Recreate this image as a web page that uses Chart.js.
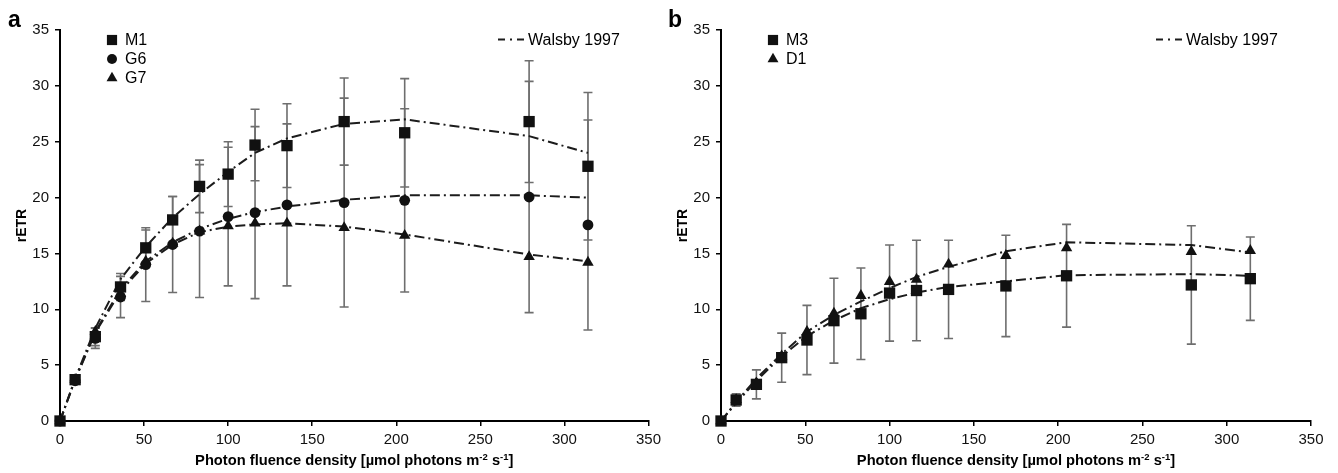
<!DOCTYPE html>
<html>
<head>
<meta charset="utf-8">
<script src="https://cdn.jsdelivr.net/npm/chart.js@4.4.1/dist/chart.umd.min.js"></script>
<style>
  html, body { margin:0; padding:0; background:#fff; }
  #wrap { position:relative; width:1338px; height:473px; }
  #ca { position:absolute; left:0; top:0; }
  #cb { position:absolute; left:666px; top:0; }
</style>
</head>
<body>
<div id="wrap">
  <canvas id="ca" width="666" height="473"></canvas>
  <canvas id="cb" width="672" height="473"></canvas>
</div>
<script>
// ---------- DATA ----------
const xValues = [0, 9, 21, 36, 51, 67, 83, 100, 116, 135, 169, 205, 279, 314];
const xTicks = [0, 50, 100, 150, 200, 250, 300, 350];
const yTicks = [0, 5, 10, 15, 20, 25, 30, 35];

// Panel a
const m1Values = [0, 3.7, 7.55, 12.0, 15.5, 18.0, 21.0, 22.1, 24.7, 24.65, 26.8, 25.8, 26.8, 22.8];
const m1Errors = [0, 0.3, 0.8, 1.2, 1.6, 2.1, 2.35, 2.9, 3.2, 3.75, 3.9, 4.85, 5.45, 6.6];
const m1Fit    = [0, 3.8, 8.3, 12.7, 15.6, 18.2, 20.3, 22.3, 24.0, 25.3, 26.6, 27.0, 25.5, 24.0];
const g6Values = [0, 3.6, 7.4, 11.1, 14.0, 15.8, 17.0, 18.3, 18.65, 19.35, 19.55, 19.75, 20.05, 17.55];
const g6Errors = [0, 0.3, 0.9, 1.85, 3.3, 4.3, 5.95, 6.2, 7.7, 7.25, 9.35, 8.2, 10.35, 9.4];
const g6Fit    = [0, 3.7, 8.0, 11.8, 14.3, 16.0, 17.2, 18.1, 18.7, 19.2, 19.8, 20.2, 20.2, 20.0];
const g7Values = [0, 3.7, 8.0, 11.4, 14.3, 15.9, 17.0, 17.45, 17.7, 17.7, 17.3, 16.6, 14.7, 14.2];
const g7Fit    = [0, 3.7, 7.9, 11.6, 14.1, 15.8, 16.9, 17.4, 17.6, 17.7, 17.4, 16.7, 14.9, 14.3];

// Panel b
const m3Values = [0, 1.88, 3.28, 5.67, 7.25, 8.98, 9.6, 11.45, 11.68, 11.78, 12.09, 13.0, 12.18, 12.74];
const m3Errors = [0, 0.55, 1.3, 2.2, 3.1, 3.8, 4.1, 4.3, 4.5, 4.4, 4.54, 4.6, 5.3, 3.73];
const m3Fit    = [0, 1.6, 3.6, 5.8, 7.6, 9.0, 10.1, 10.9, 11.5, 12.0, 12.5, 13.05, 13.15, 13.0];
const d1Values = [0, 1.9, 3.4, 5.8, 8.0, 9.64, 11.22, 12.47, 12.68, 14.03, 14.8, 15.5, 15.16, 15.25];
const d1Fit    = [0, 1.7, 3.8, 6.0, 8.0, 9.5, 10.7, 11.9, 12.9, 13.8, 15.2, 16.0, 15.75, 15.1];

const fitLabel = 'Walsby 1997';
const yTitle = 'rETR';

// ---------- STYLE ----------
const FONT = '"Liberation Sans", Arial, Helvetica, sans-serif';
const INK = '#111';
const BAR = '#6e6e6e';

function pts(vals) { return xValues.map((x, i) => ({ x: x, y: vals[i] })); }

function markerDS(label, vals, style, radius, errs) {
  return {
    label: label, data: pts(vals), showLine: false, pointStyle: style,
    pointRadius: radius, pointHoverRadius: radius,
    pointBackgroundColor: INK, pointBorderColor: INK, pointBorderWidth: 0,
    clip: false, order: 0, errors: errs || null, isMarker: true
  };
}
function fitDS(vals) {
  return {
    label: fitLabel, data: pts(vals), showLine: true, pointRadius: 0,
    borderColor: '#1c1c1c', borderWidth: 2, borderDash: [10, 4, 2, 4],
    fill: false, tension: 0, clip: false, order: 1, isMarker: false
  };
}

function drawShape(ctx, style, x, y, r) {
  ctx.beginPath();
  if (style === 'rect') {
    const s = r * Math.SQRT1_2;
    ctx.rect(x - s, y - s, 2 * s, 2 * s);
  } else if (style === 'circle') {
    ctx.arc(x, y, r, 0, Math.PI * 2);
  } else if (style === 'triangle') {
    ctx.moveTo(x, y - r);
    ctx.lineTo(x + 0.866 * r, y + 0.5 * r);
    ctx.lineTo(x - 0.866 * r, y + 0.5 * r);
    ctx.closePath();
  }
  ctx.fillStyle = INK;
  ctx.fill();
}

const errorBarPlugin = {
  id: 'errorBars',
  beforeDatasetsDraw(chart) {
    const ctx = chart.ctx, xs = chart.scales.x, ys = chart.scales.y;
    ctx.save();
    ctx.strokeStyle = BAR;
    ctx.lineWidth = 1.6;
    chart.data.datasets.forEach(ds => {
      if (!ds.errors) return;
      ds.data.forEach((p, i) => {
        const e = ds.errors[i];
        if (!e) return;
        const px = xs.getPixelForValue(p.x);
        const yt = ys.getPixelForValue(p.y + e);
        const yb = ys.getPixelForValue(p.y - e);
        ctx.beginPath();
        ctx.moveTo(px, yt); ctx.lineTo(px, yb);
        ctx.moveTo(px - 4.5, yt); ctx.lineTo(px + 4.5, yt);
        ctx.moveTo(px - 4.5, yb); ctx.lineTo(px + 4.5, yb);
        ctx.stroke();
      });
    });
    ctx.restore();
  }
};

const decorPlugin = {
  id: 'decor',
  afterDraw(chart, args, opts) {
    const ctx = chart.ctx, ca = chart.chartArea;
    ctx.save();
    // panel letter
    ctx.fillStyle = '#000';
    ctx.font = 'bold 23px ' + FONT;
    ctx.textAlign = 'left'; ctx.textBaseline = 'alphabetic';
    ctx.fillText(opts.letter, opts.letterX, 27);

    // y title
    ctx.save();
    ctx.translate(ca.left - 34, (ca.top + ca.bottom) / 2);
    ctx.rotate(-Math.PI / 2);
    ctx.font = 'bold 14px ' + FONT;
    ctx.textAlign = 'center'; ctx.textBaseline = 'alphabetic';
    ctx.fillText(yTitle, 0, 0);
    ctx.restore();

    // x title with superscripts
    const big = 'bold 14.7px ' + FONT, small = 'bold 9.5px ' + FONT;
    const parts = [
      ['Photon fluence density [\u00b5mol photons m', big, 0],
      ['-2', small, -5],
      [' s', big, 0],
      ['-1', small, -5],
      [']', big, 0]
    ];
    let total = 0;
    parts.forEach(p => { ctx.font = p[1]; total += ctx.measureText(p[0]).width; });
    let x = (ca.left + ca.right) / 2 - total / 2;
    const base = 465;
    ctx.textAlign = 'left';
    parts.forEach(p => {
      ctx.font = p[1];
      ctx.fillText(p[0], x, base + p[2]);
      x += ctx.measureText(p[0]).width;
    });

    // series legend (top-left)
    const markers = chart.data.datasets.filter(d => d.isMarker);
    ctx.font = '16px ' + FONT;
    ctx.textBaseline = 'middle';
    markers.forEach((d, i) => {
      const yy = 40 + i * 19;
      drawShape(ctx, d.pointStyle, opts.legX, yy, d.pointStyle === 'circle' ? 5 : (d.pointStyle === 'rect' ? 7.2 : 6.3));
      ctx.fillStyle = '#000';
      ctx.fillText(d.label, opts.legX + 13, yy + 1);
    });

    // fit legend (top-right)
    const ly = 39.5, lx = opts.fitX;
    ctx.strokeStyle = '#1c1c1c'; ctx.lineWidth = 2;
    ctx.beginPath();
    ctx.moveTo(lx, ly); ctx.lineTo(lx + 7, ly);
    ctx.moveTo(lx + 12, ly); ctx.lineTo(lx + 14, ly);
    ctx.moveTo(lx + 19, ly); ctx.lineTo(lx + 26, ly);
    ctx.stroke();
    ctx.fillStyle = '#000';
    ctx.fillText(fitLabel, lx + 30, ly + 1);
    ctx.restore();
  }
};

function makeChart(id, datasets, yWidth, padRight, deco) {
  const tickFont = { family: FONT, size: 15 };
  return new Chart(document.getElementById(id), {
    type: 'scatter',
    data: { datasets: datasets },
    options: {
      responsive: false, animation: false, devicePixelRatio: 1,
      layout: { padding: { left: 0, right: padRight, top: 30, bottom: 0 } },
      plugins: { legend: { display: false }, tooltip: { enabled: false }, decor: deco },
      scales: {
        x: {
          type: 'linear', min: 0, max: 350,
          afterBuildTicks: s => { s.ticks = xTicks.map(v => ({ value: v })); },
          ticks: { font: tickFont, color: INK, padding: 5, maxRotation: 0 },
          grid: { display: true, drawOnChartArea: false, drawTicks: true, tickLength: 5, color: '#000', lineWidth: 1.5 },
          border: { display: true, color: '#000', width: 2 },
          afterFit: s => { s.height = 52; }
        },
        y: {
          type: 'linear', min: 0, max: 35,
          afterBuildTicks: s => { s.ticks = yTicks.map(v => ({ value: v })); },
          ticks: { font: tickFont, color: INK, padding: 6 },
          grid: { display: true, drawOnChartArea: false, drawTicks: true, tickLength: 5, color: '#000', lineWidth: 1.5 },
          border: { display: true, color: '#000', width: 2 },
          afterFit: s => { s.width = yWidth; }
        }
      }
    },
    plugins: [errorBarPlugin, decorPlugin]
  });
}

makeChart('ca', [
  markerDS('M1', m1Values, 'rect', 8.0, m1Errors),
  markerDS('G6', g6Values, 'circle', 5.4, g6Errors),
  markerDS('G7', g7Values, 'triangle', 6.6, null),
  fitDS(m1Fit), fitDS(g6Fit), fitDS(g7Fit)
], 60, 14, { letter: 'a', letterX: 8, legX: 112, fitX: 498 });

makeChart('cb', [
  markerDS('M3', m3Values, 'rect', 8.0, m3Errors),
  markerDS('D1', d1Values, 'triangle', 6.6, null),
  fitDS(m3Fit), fitDS(d1Fit)
], 55, 27, { letter: 'b', letterX: 2, legX: 107, fitX: 490 });
</script>
</body>
</html>
